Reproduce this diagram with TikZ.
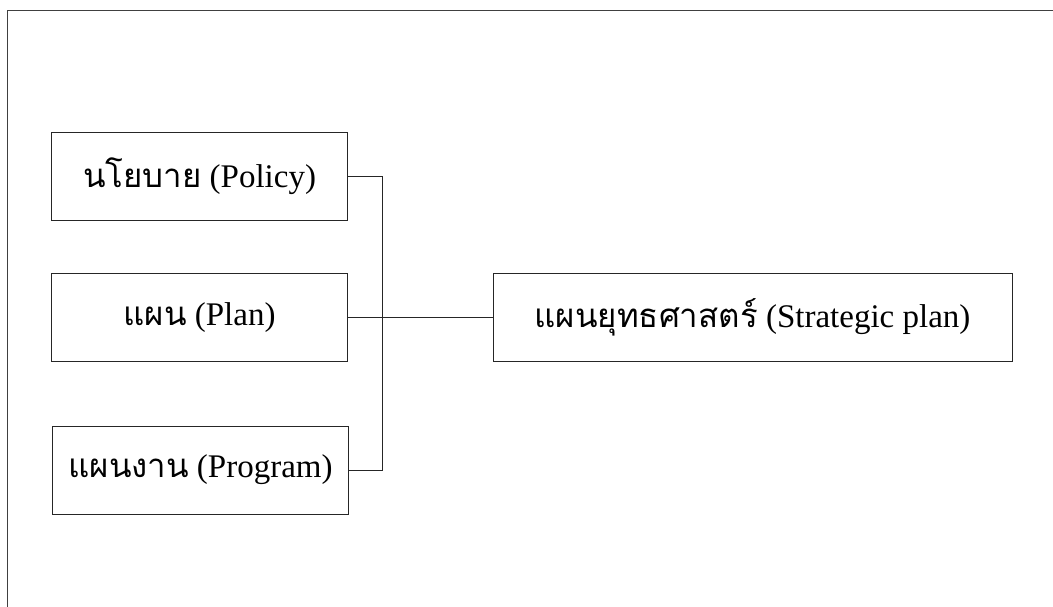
\documentclass[tikz,border=0pt]{standalone}
\usepackage{fontspec}
\setmainfont{Liberation Serif}
\newfontfamily\thaifont[Script=Thai]{Loma}
\usetikzlibrary{positioning}

\begin{document}
\begin{tikzpicture}[x=1pt,y=-1pt,
        blk/.style={draw=black!85,line width=0.8pt,minimum width=296pt,minimum height=88pt,inner sep=0pt,font=\fontsize{33}{38}\selectfont},
        wire/.style={draw=black!85,line width=0.8pt}]
        \useasboundingbox (0,0) rectangle (1053,607);
        % open frame
        \draw[black!75,line width=1pt] (7,607) -- (7,11) -- (1053,11);
        \node[blk] (pol) at (199.5,176) {{\thaifont นโยบาย} (Policy)};
        \node[blk] (plan) at (199.5,317.5) {{\thaifont แผน} (Plan)};
        \node[blk] (prog) at (200.5,470) {{\thaifont แผนงาน} (Program)};
        \node[blk,minimum width=519pt] (strat) at (752.5,317.5) {{\thaifont แผนยุทธศาสตร์} (Strategic plan)};
        \coordinate (bus) at (382,0);
        \draw[wire] (pol.east) -- (pol.east -| bus) -- (prog.east -| bus) -- (prog.east);
        \draw[wire] (plan.east) -- (strat.west);
    \end{tikzpicture}
\end{document}
